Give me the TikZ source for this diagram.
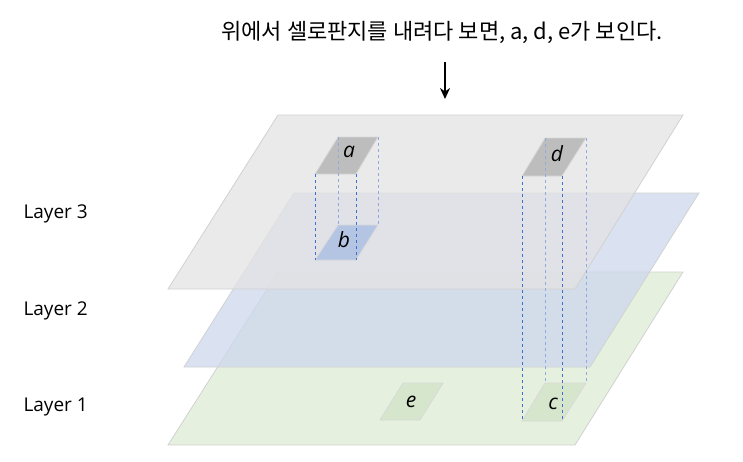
\documentclass[tikz,border=0pt]{standalone}
\usepackage{fontspec}
\setmainfont{Open Sans}
\newfontfamily\krfont{Noto Sans CJK KR}
\usetikzlibrary{arrows.meta}
\definecolor{layergray}{HTML}{E3E3E3}
\definecolor{layerblue}{HTML}{CDD8EE}
\definecolor{layergreen}{HTML}{DDEBD3}
\definecolor{patchgray}{HTML}{BDBDBD}
\definecolor{patchblue}{HTML}{B4C5E4}
\definecolor{patchgreen}{HTML}{D5E6CC}
\definecolor{linkdark}{HTML}{3F6FCF}
\definecolor{linklight}{HTML}{8FAADC}
\tikzset{
  layer/.style={draw=black!18, line width=0.8pt, fill opacity=0.75},
  patch/.style={draw=black!15, line width=0.8pt},
  linkfront/.style={draw=linkdark, dashed, line width=0.8pt},
  linkback/.style={draw=linklight, dashed, line width=0.8pt},
  lvl/.style={font=\fontsize{19}{22}\selectfont, anchor=west},
  lbl/.style={font=\fontsize{21}{24}\selectfont\itshape}
}
\begin{document}
\begin{tikzpicture}[x=1pt,y=-1pt]
  \useasboundingbox (0,0) rectangle (743,461);

  % Layers
  \fill[layergreen,layer] (278,272) -- (683,272) -- (575,445) -- (168,445) -- cycle;
  \fill[layerblue,layer] (294,193) -- (699,193) -- (590,367) -- (184,367) -- cycle;
  \fill[layergray,layer] (278,115) -- (683,115) -- (575,289) -- (168,289) -- cycle;

  \node[lvl] (l3) at (20,214) {Layer 3};
  \node[lvl] (l2) at (20,311) {Layer 2};
  \node[lvl] (l1) at (20,407) {Layer 1};

  % Patches
  \coordinate (a1) at (338,137); \coordinate (a2) at (378,137);
  \coordinate (a3) at (356,174); \coordinate (a4) at (315,174);
  \coordinate (b1) at (338,225); \coordinate (b2) at (378,225);
  \coordinate (b3) at (356,260); \coordinate (b4) at (315,260);
  \coordinate (d1) at (545,138); \coordinate (d2) at (586,138);
  \coordinate (d3) at (562,176); \coordinate (d4) at (522,176);
  \coordinate (c1) at (545,383); \coordinate (c2) at (586,383);
  \coordinate (c3) at (562,421); \coordinate (c4) at (522,421);
  \coordinate (e1) at (403,383); \coordinate (e2) at (443,383);
  \coordinate (e3) at (420,420); \coordinate (e4) at (380,420);

  \filldraw[patch,fill=patchgreen] (e1) -- (e2) -- (e3) -- (e4) -- cycle;
  \filldraw[patch,fill=patchgreen] (c1) -- (c2) -- (c3) -- (c4) -- cycle;
  \filldraw[patch,fill=patchblue] (b1) -- (b2) -- (b3) -- (b4) -- cycle;
  \filldraw[patch,fill=patchgray] (a1) -- (a2) -- (a3) -- (a4) -- cycle;
  \filldraw[patch,fill=patchgray] (d1) -- (d2) -- (d3) -- (d4) -- cycle;

  \node[lbl] (la) at (349,152) {a};
  \node[lbl] (lb) at (344,240) {b};
  \node[lbl] (ld) at (557,154) {d};
  \node[lbl] (lc) at (553,404) {c};
  \node[lbl] (le) at (411,402) {e};

  % Projections
  \draw[linkback] (a1) -- (b1);
  \draw[linkback] (a2) -- (b2);
  \draw[linkfront] (a4) -- (b4);
  \draw[linkfront] (a3) -- (b3);
  \draw[linkback] (d1) -- (c1);
  \draw[linkback] (d2) -- (c2);
  \draw[linkfront] (d4) -- (c4);
  \draw[linkfront] (d3) -- (c3);

  % Viewer
  \node[font=\krfont\fontsize{22}{26}\selectfont] (title) at (442,32)
    {위에서 셀로판지를 내려다 보면, a, d, e가 보인다.};
  \coordinate (view) at (445,99);
  \draw[-{Stealth[length=11pt,width=10pt]}, line width=2.2pt] (445,62) -- (view);

\end{tikzpicture}
\end{document}
